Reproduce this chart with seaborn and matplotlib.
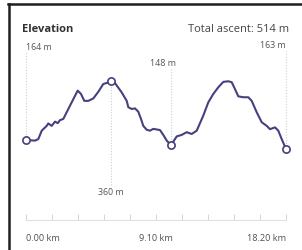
import numpy as np
import pandas as pd
import matplotlib
matplotlib.use("Agg")
import matplotlib.pyplot as plt
import seaborn as sns
from matplotlib.lines import Line2D

# ---- data ----
distance_km = [0.00, 0.63, 0.86, 1.10, 1.45, 1.56, 1.80, 2.03, 2.22, 2.38, 2.61, 2.73,
               3.08, 3.38, 3.62, 3.85, 4.08, 4.36, 4.71, 5.06, 5.41, 5.76, 5.95,
               6.23, 6.70, 7.05, 7.16, 7.40, 7.63, 7.86, 8.05, 8.21, 8.45, 8.68, 8.91,
               9.38, 9.61, 9.85, 10.13, 10.36, 10.55, 10.90, 11.25, 11.60, 11.95,
               12.41, 12.76, 13.11, 13.46, 13.81, 14.16, 14.40, 14.63, 14.86, 15.21,
               15.56, 15.80, 16.15, 16.50, 16.85, 17.08, 17.43, 17.66, 17.90, 18.20]
elevation_m = [164, 162, 167, 195, 211, 219, 211, 225, 220, 230, 234, 245,
               278, 306, 328, 317, 294, 294, 302, 324, 350, 355, 360,
               353, 322, 294, 273, 267, 269, 258, 234, 211, 198, 195, 201,
               197, 181, 162, 148, 162, 176, 181, 190, 184, 195,
               245, 289, 317, 339, 357, 359, 356, 333, 309, 306,
               306, 294, 256, 223, 211, 200, 206, 195, 167, 134]
marker_idx = [0, 22, 38, 64]          # start, highest, lowest, end
marker_labels = ["164 m", "360 m", "148 m", "163 m"]
title = "Elevation"
total_label = "Total ascent: 514 m"
tick_step_km = 1.82
tick_labels = {0: "0.00 km", 5: "9.10 km", 10: "18.20 km"}

df = pd.DataFrame({"km": distance_km, "elev": elevation_m})

W, H = 302, 251
fig = plt.figure(figsize=(W / 100, H / 100), dpi=100)
fig.patch.set_facecolor("white")
plt.rcParams["font.family"] = ["Open Sans", "DejaVu Sans"]

def fx(px):
    return px / W

def fy(py):
    return 1 - py / H

# frame border (left + top)
fig.add_artist(Line2D([fx(9), fx(9)], [fy(4.5), fy(251)], color="#1e1e1e", lw=1.8,
                      transform=fig.transFigure))
fig.add_artist(Line2D([fx(8.2), fx(302)], [fy(4.5), fy(4.5)], color="#1e1e1e", lw=1.8,
                      transform=fig.transFigure))

ax_top, ax_bot = 60, 221
ax = fig.add_axes([fx(26), fy(ax_bot), fx(286) - fx(26), (ax_bot - ax_top) / H])
ax.set_facecolor("none")
line_col = "#45407e"
sns.lineplot(data=df, x="km", y="elev", ax=ax, color=line_col, lw=1.5, sort=False)
mk = df.iloc[marker_idx]
ax.plot(mk["km"], mk["elev"], ls="none", marker="o", ms=5.2, mfc="white",
        mec=line_col, mew=1.2, zorder=5, clip_on=False)

ax.set_xlim(0, 18.2)
ax.set_ylim(-101.6, 433)
ax.set_xlabel("")
ax.set_ylabel("")
for s in ["top", "left", "right"]:
    ax.spines[s].set_visible(False)
ax.spines["bottom"].set_color("#e0e0e0")
ax.spines["bottom"].set_linewidth(0.8)
ax.set_yticks([])
ticks = [i * tick_step_km for i in range(11)]
ax.set_xticks(ticks)
ax.set_xticklabels([tick_labels.get(i, "") for i in range(11)])
ax.tick_params(axis="x", direction="in", length=4, width=0.7, color="#d4d4d4",
               labelsize=6.6, labelcolor="#505050", pad=9.5)
lbls = ax.get_xticklabels()
lbls[0].set_ha("left")
lbls[-1].set_ha("right")

# dotted guide lines from markers to labels (label y given in pixels)
def py_to_data(py):
    disp = fig.transFigure.transform((0, fy(py)))
    return ax.transData.inverted().transform(disp)[1]

label_py = [53, 186, 70, 52]
for i, lp in zip(marker_idx, label_py):
    x0, y0 = df["km"][i], df["elev"][i]
    ax.vlines(x0, min(y0, py_to_data(lp)), max(y0, py_to_data(lp)), colors="#cfcfcf",
              linestyles=(0, (1, 1.5)), lw=0.8, clip_on=False, zorder=1)

txt_col = "#555555"
fs_small = 6.4
fig.text(fx(26), fy(47), marker_labels[0], ha="left", va="center", fontsize=fs_small, color=txt_col)
fig.text(fx(111), fy(193), marker_labels[1], ha="center", va="center", fontsize=fs_small, color=txt_col)
fig.text(fx(176), fy(63.5), marker_labels[2], ha="right", va="center", fontsize=fs_small, color=txt_col)
fig.text(fx(286), fy(46), marker_labels[3], ha="right", va="center", fontsize=fs_small, color=txt_col)

fig.text(fx(22), fy(30), title, ha="left", va="center", fontsize=8, color="#333333",
         fontweight="bold")
fig.text(fx(289), fy(30), total_label, ha="right", va="center", fontsize=8, color="#444444")

fig.savefig("out.png", dpi=100)
